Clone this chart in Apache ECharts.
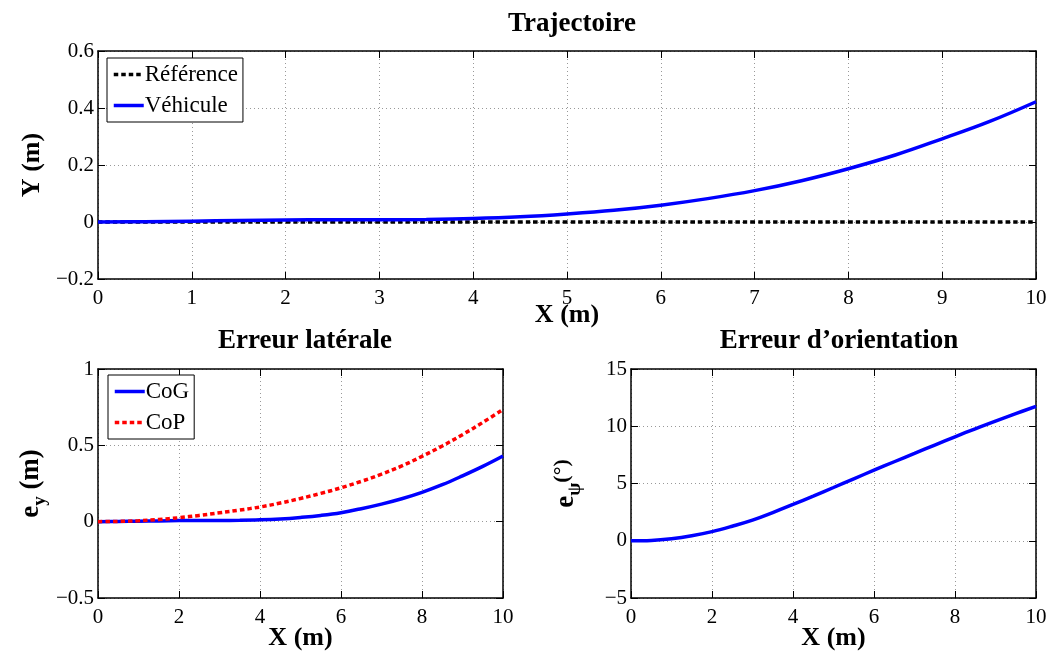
<!DOCTYPE html>
<html><head><meta charset="utf-8">
<script src="https://cdn.jsdelivr.net/npm/echarts@6/dist/echarts.min.js"></script>
<style>html,body{margin:0;padding:0;background:#fff}#c{width:1051px;height:653px}</style>
</head><body><div id="c"></div>
<script>
// Data
const xs = [0,0.5,1,1.5,2,2.5,3,3.5,4,4.5,5,5.5,6,6.5,7,7.5,8,8.5,9,9.5,10];
const refY = [0,0,0,0,0,0,0,0,0,0,0,0,0,0,0,0,0,0,0,0,0];
const vehY = [0,0.001,0.003,0.005,0.007,0.008,0.008,0.009,0.012,0.018,0.028,0.041,0.059,0.082,0.11,0.145,0.187,0.235,0.292,0.352,0.422];
const cogE = [0,0.001,0.003,0.005,0.007,0.008,0.008,0.009,0.012,0.018,0.028,0.041,0.059,0.085,0.115,0.15,0.192,0.242,0.3,0.362,0.43];
const copE = [0,0.002,0.006,0.014,0.026,0.041,0.058,0.076,0.096,0.122,0.152,0.185,0.222,0.264,0.311,0.365,0.428,0.496,0.57,0.65,0.735];
const psiE = [0,0.03,0.18,0.44,0.8,1.27,1.8,2.46,3.17,3.9,4.65,5.41,6.16,6.9,7.63,8.36,9.08,9.78,10.45,11.1,11.74];

const pairs = (ys) => xs.map((x,i)=>[x, ys[i]]);
const F = 'Liberation Serif';
const minus = v => String(v).replace('-', '\u2212');
const TICK = 21;

function xAxisDef(gi, interval, name, nameGap) {
  return [{
    type:'value', gridIndex:gi, min:0, max:10, interval:interval,
    name:name, nameLocation:'middle', nameGap:nameGap, nameMoveOverlap:false,
    nameTextStyle:{fontFamily:F, fontSize:26, fontWeight:'bold', color:'#000'},
    axisLine:{show:true, onZero:false, lineStyle:{color:'#000', width:1.5}},
    axisTick:{show:true, inside:true, length:7, lineStyle:{color:'#000'}},
    axisLabel:{fontFamily:F, fontSize:TICK, color:'#000', margin:9},
    splitLine:{show:true, lineStyle:{color:'#999', type:[1,3], width:1}}
  },{
    type:'value', gridIndex:gi, min:0, max:10, interval:interval, position:'top',
    axisLine:{show:true, onZero:false, lineStyle:{color:'#000', width:1.5}},
    axisTick:{show:true, inside:true, length:7, lineStyle:{color:'#000'}},
    axisLabel:{show:false}, splitLine:{show:false}
  }];
}
function yAxisDef(gi, min, max, interval, name, nameGap, rich) {
  return [{
    type:'value', gridIndex:gi, min:min, max:max, interval:interval,
    name:name, nameLocation:'middle', nameGap:nameGap, nameRotate:90,
    nameTextStyle:{fontFamily:F, fontSize:26, fontWeight:'bold', color:'#000', rich:rich},
    axisLine:{show:true, onZero:false, lineStyle:{color:'#000', width:1.5}},
    axisTick:{show:true, inside:true, length:7, lineStyle:{color:'#000'}},
    axisLabel:{fontFamily:F, fontSize:TICK, color:'#000', margin:4, formatter:minus},
    splitLine:{show:true, lineStyle:{color:'#999', type:[1,3], width:1}}
  },{
    type:'value', gridIndex:gi, min:min, max:max, interval:interval, position:'right',
    axisLine:{show:true, onZero:false, lineStyle:{color:'#000', width:1.5}},
    axisTick:{show:true, inside:true, length:7, lineStyle:{color:'#000'}},
    axisLabel:{show:false}, splitLine:{show:false}
  }];
}

const richEy = {
  b:{fontFamily:F, fontSize:27, fontWeight:'bold', color:'#000'},
  s:{fontFamily:F, fontSize:19, fontWeight:'bold', color:'#000', padding:[18,0,0,0]}
};
const richEpsi = {
  b:{fontFamily:F, fontSize:27, fontWeight:'bold', color:'#000'},
  s:{fontFamily:F, fontSize:19, fontWeight:'bold', color:'#000', padding:[18,0,0,0]},
  n:{fontFamily:F, fontSize:22, color:'#000', padding:[0,0,8,0]}
};

const xA = [].concat(xAxisDef(0,1,'X (m)',23), xAxisDef(1,2,'X (m)',27), xAxisDef(2,2,'X (m)',27));
const yA = [].concat(
  yAxisDef(0,-0.2,0.6,0.2,'Y (m)',46,{}),
  yAxisDef(1,-0.5,1,0.5,'{b|e}{s|y}{b| (m)}',48,richEy),
  yAxisDef(2,-5,15,5,'{b|e}{s|ψ}{n|(°)}',46,richEpsi)
);

const lineS = (name, data, xi, yi, color, type) => ({
  name:name, type:'line', xAxisIndex:xi, yAxisIndex:yi, data:data,
  symbol:'circle', showSymbol:false, smooth:0.4, animation:false,
  lineStyle:{color:color, width:3.5, type:type}, itemStyle:{color:color}
});

const legendBase = {
  orient:'vertical', backgroundColor:'#fff', borderColor:'#000', borderWidth:1,
  borderRadius:0, itemWidth:30, itemHeight:14, itemGap:8, padding:[5,5,5,5],
  itemStyle:{opacity:0}, lineStyle:{width:3.5},
  textStyle:{fontFamily:F, fontSize:23, color:'#000', padding:[0,0,0,-4]}
};

const option = {
  animation:false,
  title:[
    {text:'Trajectoire', left:567, top:6, textAlign:'center', textStyle:{fontFamily:F, fontSize:27, fontWeight:'bold', color:'#000'}},
    {text:'Erreur latérale', left:300, top:323, textAlign:'center', textStyle:{fontFamily:F, fontSize:27, fontWeight:'bold', color:'#000'}},
    {text:'Erreur d\u2019orientation', left:834, top:323, textAlign:'center', textStyle:{fontFamily:F, fontSize:27, fontWeight:'bold', color:'#000'}}
  ],
  grid:[
    {left:98, top:51, width:938, height:228},
    {left:98, top:369, width:405, height:229},
    {left:631, top:369, width:405, height:229}
  ],
  legend:[
    Object.assign({}, legendBase, {left:107, top:58, data:['Référence','Véhicule']}),
    Object.assign({}, legendBase, {left:108, top:375, data:['CoG','CoP']})
  ],
  xAxis:xA, yAxis:yA,
  series:[
    lineS('Référence', pairs(refY), 0, 0, '#000', [4.5,3]),
    lineS('Véhicule', pairs(vehY), 0, 0, '#0000ff', 'solid'),
    lineS('CoG', pairs(cogE), 2, 2, '#0000ff', 'solid'),
    lineS('CoP', pairs(copE), 2, 2, '#ff0000', [4.5,3]),
    lineS('ψ', pairs(psiE), 4, 4, '#0000ff', 'solid')
  ]
};
echarts.init(document.getElementById('c'), null, {renderer:'canvas'}).setOption(option);
</script></body></html>
